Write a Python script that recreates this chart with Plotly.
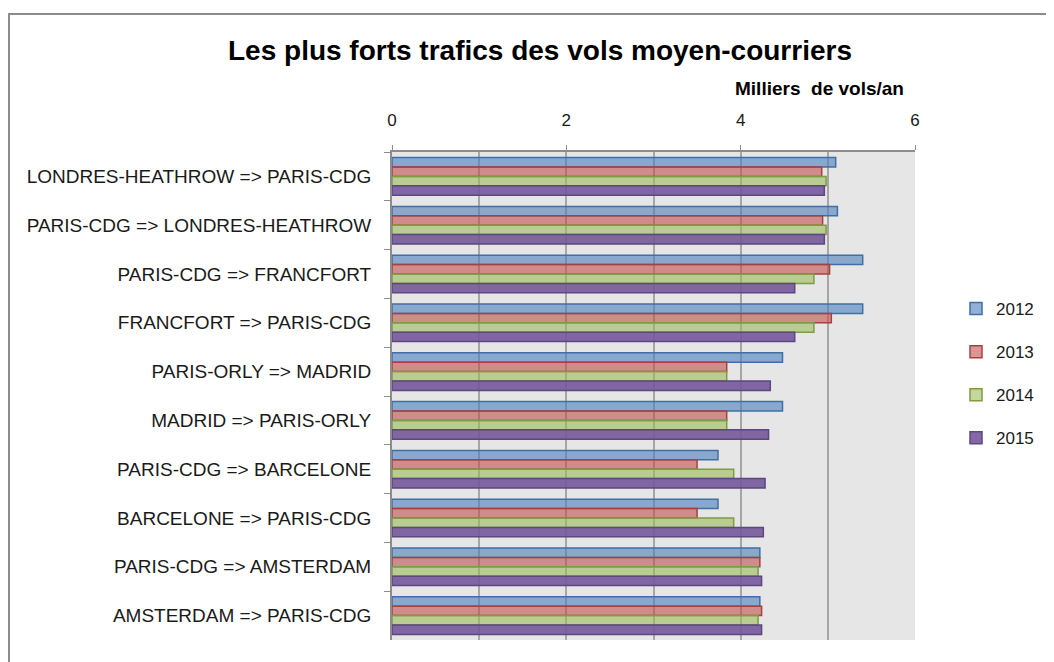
import plotly.graph_objects as go

routes = [
    "LONDRES-HEATHROW => PARIS-CDG",
    "PARIS-CDG => LONDRES-HEATHROW",
    "PARIS-CDG => FRANCFORT",
    "FRANCFORT => PARIS-CDG",
    "PARIS-ORLY => MADRID",
    "MADRID => PARIS-ORLY",
    "PARIS-CDG => BARCELONE",
    "BARCELONE => PARIS-CDG",
    "PARIS-CDG => AMSTERDAM",
    "AMSTERDAM => PARIS-CDG",
]
years = ["2012", "2013", "2014", "2015"]
v2012 = [5.09, 5.11, 5.40, 5.40, 4.48, 4.48, 3.74, 3.74, 4.22, 4.22]
v2013 = [4.93, 4.94, 5.02, 5.04, 3.84, 3.84, 3.50, 3.50, 4.22, 4.24]
v2014 = [4.98, 4.98, 4.84, 4.84, 3.84, 3.84, 3.92, 3.92, 4.20, 4.20]
v2015 = [4.96, 4.96, 4.62, 4.62, 4.34, 4.32, 4.28, 4.26, 4.24, 4.24]
series = [v2012, v2013, v2014, v2015]
x_ticks = [0, 2, 4, 6]

fills = ["rgba(79,129,189,0.62)", "rgba(192,80,77,0.6)",
         "rgba(155,187,89,0.6)", "rgba(116,88,155,0.9)"]
borders = ["#3F6FA6", "#A8413E", "#7E9B45", "#5C4780"]

fig = go.Figure()
for i, (yr, vals) in enumerate(zip(years, series)):
    fig.add_trace(go.Bar(
        y=routes, x=vals, name=yr, orientation="h",
        marker=dict(color=fills[i], line=dict(color=borders[i], width=1.5)),
        legendgroup=yr,
    ))

# page has an 8px body margin: figure pixel = page pixel - 8
W, H = 1046, 654
L, R, T, B = 384, 907, 144, 632

def px_x(p):
    return (p - L) / (R - L)

def px_y(p):
    return (B - p) / (B - T)

fig.update_layout(
    width=W, height=H,
    margin=dict(l=L, r=W - R, t=T, b=H - B, autoexpand=False),
    paper_bgcolor="white",
    plot_bgcolor="#E6E6E6",
    barmode="group",
    bargap=0.23,
    bargroupgap=0,
    font=dict(family="Liberation Sans", color="#1a1a1a", size=16),
    title=dict(
        text="<b>Les plus forts trafics des vols moyen-courriers</b>",
        x=532 / W, xanchor="center", y=1 - 42 / H, yanchor="middle",
        font=dict(family="Liberation Sans", size=28, color="#000"),
    ),
    showlegend=True,
    legend=dict(
        x=px_x(948), xanchor="left", y=px_y(283), yanchor="top",
        font=dict(size=17, color="#1a1a1a"),
        traceorder="grouped", tracegroupgap=18,
        itemwidth=30,
    ),
    xaxis=dict(
        side="top", range=[0, 6],
        tickvals=x_ticks, ticktext=[str(t) for t in x_ticks],
        showgrid=True, gridcolor="#A6A6A6", gridwidth=1.5,
        minor=dict(dtick=1, showgrid=True, gridcolor="#A6A6A6", gridwidth=1.5),
        showline=True, linecolor="#8C8C8C", linewidth=2,
        ticks="outside", ticklen=5, tickcolor="#8C8C8C",
        ticklabelstandoff=12,
        tickfont=dict(size=17, color="#1a1a1a"),
        zeroline=False,
        fixedrange=True,
    ),
    yaxis=dict(
        autorange="reversed", type="category",
        showline=True, linecolor="#8C8C8C", linewidth=2,
        ticks="outside", ticklen=6, tickcolor="#8C8C8C", tickson="boundaries",
        ticklabelstandoff=15,
        tickfont=dict(size=19, color="#1a1a1a"),
        showgrid=False,
    ),
    shapes=[dict(
        type="rect", xref="paper", yref="paper",
        x0=px_x(1), x1=px_x(1070), y0=px_y(675), y1=px_y(6),
        line=dict(color="#8C8C8C", width=2), fillcolor="rgba(0,0,0,0)",
        layer="below",
    )],
    annotations=[dict(
        text="<b>Milliers  de vols/an</b>", xref="paper", yref="paper",
        x=px_x(898), xanchor="right", y=px_y(80), yanchor="middle",
        showarrow=False, font=dict(family="Liberation Sans", size=19, color="#000"),
    )],
)

fig.write_html("out.html")
